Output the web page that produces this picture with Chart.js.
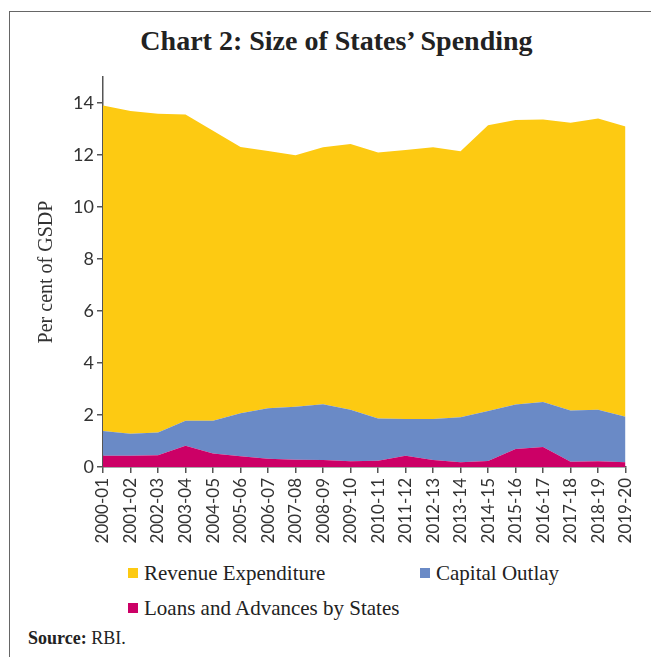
<!DOCTYPE html>
<html>
<head>
<meta charset="utf-8">
<script src="https://cdn.jsdelivr.net/npm/chart.js@4"></script>
<style>
  body { margin: 0; background: #fff; }
  #wrap { position: relative; width: 651px; height: 657px; overflow: hidden; }
  #frame { position: absolute; left: 9px; top: 11px; right: -2px; bottom: -2px;
    border-left: 1.5px solid #666; border-top: 1.5px solid #666; }
  #title { position: absolute; left: 0; width: 651px; top: 25px; text-align: center;
    font: bold 28px "Liberation Serif", serif; color: #222; padding-left: 22px; box-sizing: border-box; }
  #box { position: absolute; left: 0; top: 60px; width: 651px; height: 500px; }
  .leg { position: absolute; font: 21px "Liberation Serif", serif; color: #222; white-space: nowrap; }
  .leg i { display: inline-block; width: 10px; height: 10px; margin-right: 6px; vertical-align: 2px; }
  #src { position: absolute; left: 28px; top: 628px; font: 18px "Liberation Serif", serif; color: #222; }
</style>
</head>
<body>
<div id="wrap">
  <div id="frame"></div>
  <div id="title">Chart 2: Size of States’ Spending</div>
  <div id="box"><canvas id="areaChart"></canvas></div>
  <div class="leg" style="left:128px; top:561px"><i style="background:#FDCA12"></i>Revenue Expenditure</div>
  <div class="leg" style="left:420px; top:561px"><i style="background:#6A8AC6"></i>Capital Outlay</div>
  <div class="leg" style="left:128px; top:596px"><i style="background:#CC0066"></i>Loans and Advances by States</div>
  <div id="src"><b>Source:</b> RBI.</div>
</div>
<script>
'use strict';
// Data (per cent of GSDP)
const years = ['2000-01', '2001-02', '2002-03', '2003-04', '2004-05', '2005-06', '2006-07',
  '2007-08', '2008-09', '2009-10', '2010-11', '2011-12', '2012-13', '2013-14', '2014-15',
  '2015-16', '2016-17', '2017-18', '2018-19', '2019-20'];
const loansAdvances = [0.43, 0.43, 0.45, 0.82, 0.52, 0.41, 0.32, 0.28, 0.27, 0.22,
  0.24, 0.43, 0.27, 0.18, 0.23, 0.69, 0.77, 0.20, 0.22, 0.18];
const capitalOutlay = [0.95, 0.85, 0.88, 0.96, 1.26, 1.66, 1.94, 2.04, 2.14, 1.98,
  1.63, 1.42, 1.58, 1.73, 1.92, 1.71, 1.73, 1.97, 1.98, 1.75];
const revenueExp = [12.52, 12.41, 12.26, 11.78, 11.15, 10.24, 9.89, 9.67, 9.89, 10.22,
  10.23, 10.34, 10.45, 10.23, 10.99, 10.95, 10.87, 11.07, 11.20, 11.17];
const yTicks = [0, 2, 4, 6, 8, 10, 12, 14];

const yellowColor = '#FDCA12',
  blueColor = '#6A8AC6',
  pinkColor = '#CC0066',
  axisColor = '#555555',
  labelColor = '#333333';

const areaChart = document.getElementById('areaChart');
new Chart(areaChart, {
  type: 'line',
  data: {
    labels: years,
    datasets: [
      { label: 'Loans and Advances by States', data: loansAdvances, backgroundColor: pinkColor, fill: 'origin' },
      { label: 'Capital Outlay', data: capitalOutlay, backgroundColor: blueColor, fill: '-1' },
      { label: 'Revenue Expenditure', data: revenueExp, backgroundColor: yellowColor, fill: '-1' }
    ]
  },
  options: {
    responsive: true,
    maintainAspectRatio: false,
    animation: false,
    elements: {
      line: { borderWidth: 0, tension: 0 },
      point: { radius: 0 }
    },
    layout: { padding: { top: 17, right: 21, left: 0, bottom: 0 } },
    plugins: {
      legend: { display: false },
      tooltip: { enabled: false }
    },
    scales: {
      x: {
        offset: false,
        grid: { display: true, drawOnChartArea: false, color: axisColor, tickLength: 6, lineWidth: 1.5 },
        border: { display: true, color: axisColor, width: 1.5 },
        ticks: {
          color: labelColor, maxRotation: 90, minRotation: 90, autoSkip: false, padding: 5,
          font: { family: 'Lato', size: 17 }
        },
        afterFit: function (scale) { scale.height = 93; }
      },
      y: {
        stacked: true,
        min: 0,
        max: 15,
        grid: { display: true, drawOnChartArea: false, color: axisColor, tickLength: 6, lineWidth: 1.5 },
        border: { display: true, color: axisColor, width: 1.5 },
        ticks: {
          stepSize: 2, color: labelColor, padding: 3,
          font: { family: 'Lato', size: 18 }
        },
        afterBuildTicks: function (scale) {
          scale.ticks = yTicks.map(v => ({ value: v }));
        },
        title: {
          display: true,
          text: 'Per cent of GSDP',
          color: labelColor,
          font: { family: 'Liberation Serif', size: 20 },
          padding: { top: 35, bottom: 0 }
        },
        afterFit: function (scale) { scale.width = 103; }
      }
    }
  }
});
</script>
</body>
</html>
